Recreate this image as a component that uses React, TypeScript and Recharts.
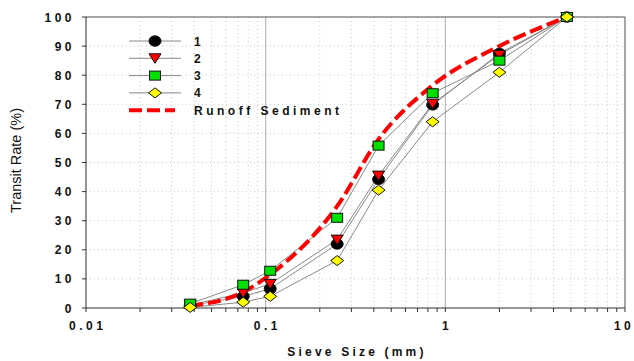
import React from "react";
import { LineChart, Line, XAxis, YAxis, CartesianGrid, ReferenceLine, Label } from "recharts";

// sieve openings (mm) and cumulative passing (%)
const sieveSizes = [0.038, 0.075, 0.106, 0.25, 0.425, 0.85, 2, 4.75];
const sample1 = [0.8, 4, 6.6, 22, 44.2, 69.8, 87.5, 100];
const sample2 = [1, 5.2, 8.3, 23.5, 45.5, 70.2, 87, 100];
const sample3 = [1.5, 8, 12.8, 31, 55.8, 73.8, 85, 100];
const sample4 = [0.2, 2, 4, 16.3, 40.5, 64, 81, 100];
const runoffSediment = [0.8, 5.5, 11.5, 35, 58, 76.5, 90, 100];

const majorTicks = [0.01, 0.1, 1, 10];
const xTicks = [
  0.01, 0.02, 0.03, 0.04, 0.05, 0.06, 0.07, 0.08, 0.09,
  0.1, 0.2, 0.3, 0.4, 0.5, 0.6, 0.7, 0.8, 0.9,
  1, 2, 3, 4, 5, 6, 7, 8, 9, 10,
];
const yTicks = [0, 10, 20, 30, 40, 50, 60, 70, 80, 90, 100];

const FONT = "'Liberation Sans', Arial, sans-serif";
const SPACING = 3.5;

type Shape = "circle" | "triangle" | "square" | "diamond";

const samples: { key: string; name: string; values: number[]; shape: Shape; fill: string }[] = [
  { key: "s1", name: "1", values: sample1, shape: "circle", fill: "#000000" },
  { key: "s2", name: "2", values: sample2, shape: "triangle", fill: "#ff0000" },
  { key: "s3", name: "3", values: sample3, shape: "square", fill: "#00e000" },
  { key: "s4", name: "4", values: sample4, shape: "diamond", fill: "#ffff00" },
];

const rows = sieveSizes.map((size, i) => {
  const row: Record<string, number> = { size, runoff: runoffSediment[i] };
  samples.forEach((s) => (row[s.key] = s.values[i]));
  return row;
});

function Marker({ shape, fill, cx, cy }: { shape: Shape; fill: string; cx: number; cy: number }) {
  const stroke = "#111";
  if (shape === "circle") return <ellipse cx={cx} cy={cy} rx={6} ry={5.2} fill={fill} stroke={stroke} />;
  if (shape === "triangle")
    return <polygon points={`${cx - 6},${cy - 4.5} ${cx + 6},${cy - 4.5} ${cx},${cy + 5}`} fill={fill} stroke={stroke} />;
  if (shape === "square") return <rect x={cx - 5.5} y={cy - 4.5} width={11} height={9} fill={fill} stroke={stroke} />;
  return <polygon points={`${cx},${cy - 5} ${cx + 6.5},${cy} ${cx},${cy + 5} ${cx - 6.5},${cy}`} fill={fill} stroke={stroke} />;
}

function makeDot(shape: Shape, fill: string) {
  return (props: any) => {
    if (props.cx == null || props.cy == null) return <g key={props.index} />;
    return <Marker key={props.index} shape={shape} fill={fill} cx={props.cx} cy={props.cy} />;
  };
}

function XTick(props: any) {
  const { x, y, payload } = props;
  if (!majorTicks.includes(payload.value)) return <g />;
  const label = String(payload.value);
  const common = { fontFamily: FONT, fontSize: 12, fontWeight: "bold", fill: "#111" } as const;
  if (payload.value === majorTicks[majorTicks.length - 1]) {
    // last label sits at the right edge: place the glyphs one by one so nothing spills over
    return (
      <text y={y + 16} {...common}>
        {label.split("").map((ch, i) => (
          <tspan key={i} x={x - 11 + i * 10}>
            {ch}
          </tspan>
        ))}
      </text>
    );
  }
  return (
    <text x={x + SPACING / 2} y={y + 16} textAnchor="middle" letterSpacing={SPACING} {...common}>
      {label}
    </text>
  );
}

function YTick(props: any) {
  const { x, y, payload } = props;
  return (
    <text x={x} y={y + 4.5} textAnchor="end" fontFamily={FONT} fontSize={12} fontWeight="bold" letterSpacing={SPACING} fill="#111">
      {String(payload.value)}
    </text>
  );
}

function ChartLegend() {
  const x0 = 129;
  const y0 = 41;
  const step = 17.3;
  return (
    <svg width={634} height={361} style={{ position: "absolute", left: 0, top: 0, pointerEvents: "none" }}>
      {samples.map((s, i) => {
        const y = y0 + i * step;
        return (
          <g key={s.key}>
            <line x1={x0} x2={x0 + 52} y1={y} y2={y} stroke="#888" strokeWidth={1} />
            <Marker shape={s.shape} fill={s.fill} cx={x0 + 26} cy={y} />
            <text x={x0 + 65} y={y + 4.5} fontFamily={FONT} fontSize={12} fontWeight="bold" letterSpacing={SPACING} fill="#111">
              {s.name}
            </text>
          </g>
        );
      })}
      <line x1={x0} x2={x0 + 46} y1={y0 + 4 * step} y2={y0 + 4 * step} stroke="#ff0000" strokeWidth={4} strokeDasharray="13 5" />
      <text x={x0 + 65} y={y0 + 4 * step + 4.5} fontFamily={FONT} fontSize={12} fontWeight="bold" letterSpacing={SPACING} fill="#111">
        Runoff Sediment
      </text>
    </svg>
  );
}

export default function App() {
  return (
    <div style={{ position: "absolute", left: 0, top: 0, width: 634, height: 361, background: "#fff" }}>
      <LineChart width={634} height={361} data={rows} margin={{ top: 17, right: 9, bottom: 0, left: 0 }}>
        <CartesianGrid stroke="#c8c8c8" strokeDasharray="1 3" />
        <XAxis
          dataKey="size"
          type="number"
          scale="log"
          domain={[0.01, 10]}
          ticks={xTicks}
          interval={0}
          allowDataOverflow
          height={53}
          tickSize={4}
          tickMargin={2}
          tick={<XTick />}
          stroke="#333"
        >
          <Label
            content={(p: any) => {
              const vb = p.viewBox;
              return (
                <text x={vb.x + vb.width / 2 + 1.5} y={vb.y + 48} textAnchor="middle" fontFamily={FONT} fontSize={12} fontWeight="bold" letterSpacing={3.2} fill="#111">
                  Sieve Size (mm)
                </text>
              );
            }}
          />
        </XAxis>
        <YAxis
          type="number"
          domain={[0, 100]}
          ticks={yTicks}
          interval={0}
          width={86}
          tickSize={4}
          tickMargin={7}
          tick={<YTick />}
          stroke="#333"
        >
          <Label
            content={(p: any) => {
              const vb = p.viewBox;
              const cx = vb.x + 21;
              const cy = vb.y + vb.height / 2 - 2;
              return (
                <text x={cx} y={cy} transform={`rotate(-90 ${cx} ${cy})`} textAnchor="middle" fontFamily={FONT} fontSize={14.5} fill="#111">
                  Transit Rate (%)
                </text>
              );
            }}
          />
        </YAxis>
        <ReferenceLine x={0.1} stroke="#b0b0b0" />
        <ReferenceLine x={1} stroke="#b0b0b0" />
        <ReferenceLine y={100} stroke="#555" />
        <ReferenceLine x={10} stroke="#555" />
        {samples.map((s) => (
          <Line
            key={s.key}
            dataKey={s.key}
            name={s.name}
            type="linear"
            stroke="#8a8a8a"
            strokeWidth={1}
            dot={makeDot(s.shape, s.fill)}
            activeDot={false}
            isAnimationActive={false}
          />
        ))}
        <Line
          dataKey="runoff"
          name="Runoff Sediment"
          type="monotone"
          stroke="#ff0000"
          strokeWidth={4}
          strokeDasharray="13 5"
          dot={false}
          activeDot={false}
          isAnimationActive={false}
        />
      </LineChart>
      <ChartLegend />
    </div>
  );
}
